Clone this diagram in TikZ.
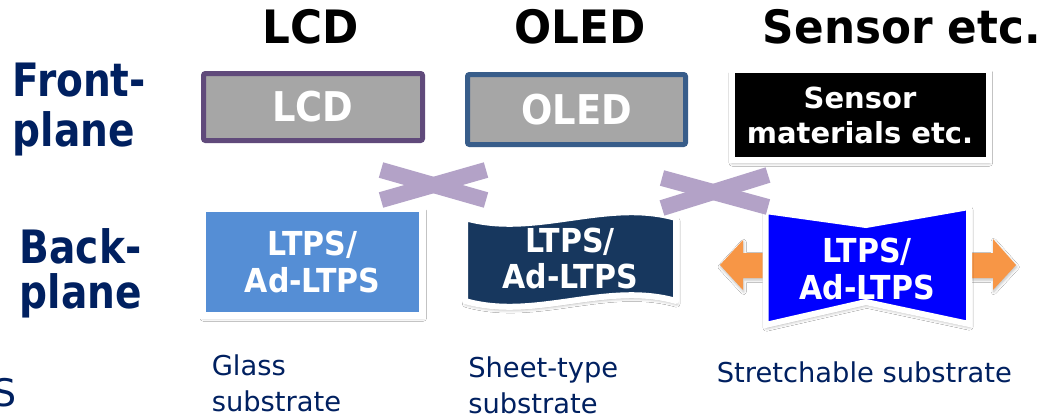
\documentclass[tikz,border=0pt]{standalone}
\usepackage{fontspec}
\setmainfont{DejaVu Sans}
\newfontfamily\ftitle[FakeStretch=0.95]{DejaVu Sans}
\newfontfamily\fside[FakeStretch=0.85]{DejaVu Sans}
\newfontfamily\flbl[FakeStretch=0.9]{DejaVu Sans}
\newfontfamily\fltps[FakeStretch=0.91]{DejaVu Sans}
\usetikzlibrary{shadows.blur}
\definecolor{navy}{HTML}{002060}
\definecolor{lcdpur}{HTML}{604A7B}
\definecolor{oledblue}{HTML}{385D8A}
\definecolor{boxgray}{HTML}{A6A6A6}
\definecolor{glassblue}{HTML}{558ED5}
\definecolor{sheetnavy}{HTML}{17375E}
\definecolor{stretchblue}{HTML}{0000FF}
\definecolor{orangearr}{HTML}{F79646}
\definecolor{lav}{HTML}{B3A2C7}
\begin{document}
\begin{tikzpicture}[x=0.75pt,y=-0.75pt,
  title/.style={font=\ftitle\bfseries\fontsize{34.5}{40}\selectfont, inner sep=0},
  side/.style={text=navy, inner sep=0, align=left},
  frontbox/.style={fill=boxgray, line width=3.75pt, rounded corners=1.5pt, text=white,
     font=\flbl\bfseries\fontsize{30.75}{34}\selectfont, inner sep=0},
  ltps/.style={text=white, align=center, font=\fltps\bfseries\fontsize{24.75}{27.5}\selectfont, inner sep=0},
  wshadow/.style={blur shadow={shadow xshift=0.6pt, shadow yshift=-2.2pt, shadow blur radius=2.5pt, shadow opacity=35}},
  cross/.style={draw=lav, line width=12pt},
  bot/.style={text=navy, font=\fontsize{20.5}{27}\selectfont, inner sep=0, align=left}]
\useasboundingbox[fill=white] (0,0) rectangle (1047,418);

% titles
\node[title, anchor=base] (tlcd) at (311,43) {LCD};
\node[title, anchor=base] (toled) at (580,43) {OLED};
\node[title, anchor=base] (tsens) at (902,43) {Sensor etc.};

% side labels
\node[side, anchor=north west, font=\fside\bfseries\fontsize{34.5}{37.5}\selectfont] (front) at (12.5,63) {Front-\\plane};
\node[side, anchor=north west, font=\fside\bfseries\fontsize{34.5}{33.75}\selectfont] (back) at (19.5,228.5) {Back-\\plane};

% front-plane boxes
\node[frontbox, draw=lcdpur, minimum width=164.25pt, minimum height=50.25pt] (lcd) at (313,107) {LCD};
\node[frontbox, draw=oledblue, minimum width=163.5pt, minimum height=52.5pt] (oled) at (576.5,109.5) {OLED};
\node[wshadow, fill=black, draw=white, line width=4.5pt, minimum width=192.75pt, minimum height=67.5pt,
      text=white, align=center, inner sep=0, font=\bfseries\fontsize{21.75}{26.25}\selectfont] (sens) at (860,115)
      {Sensor\\materials etc.};

% backplane 1: glass
\node[wshadow, fill=glassblue, draw=white, line width=5.25pt, minimum width=165pt, minimum height=79.9pt,
      ltps] (glassbox) at (312.5,261.75) {LTPS/\\Ad-LTPS};

% backplane 2: sheet (wave)
\path[wshadow, fill=sheetnavy, draw=white, line width=4.5pt, line join=round]
  (465,218) .. controls (535,238) and (606,198) .. (676,218)
  -- (676,301) .. controls (606,281) and (535,321) .. (465,301) -- cycle;
\node[ltps] (sheetlbl) at (570,258.5) {LTPS/\\Ad-LTPS};

% backplane 3: stretchable (bowtie) with orange double arrow
\path[fill=orangearr, blur shadow={shadow xshift=0.5pt, shadow yshift=-1.5pt, shadow blur radius=2pt, shadow opacity=25}]
  (720,265) -- (743,240) -- (743,253) -- (993,253) -- (993,239) -- (1016,265)
  -- (993,290) -- (993,278) -- (743,278) -- (743,290) -- cycle;
\path[wshadow, fill=stretchblue, draw=white, line width=4.5pt]
  (765.5,211) -- (866,225) -- (969,207) -- (969,324) -- (866,302) -- (765.5,325) -- cycle;
\node[ltps] (stretchlbl) at (867,269) {LTPS/\\Ad-LTPS};

% crosses
\coordinate (c1a) at (381,170); \coordinate (c1b) at (486,200);
\coordinate (c1c) at (381,200); \coordinate (c1d) at (486,170);
\coordinate (c2a) at (662,178); \coordinate (c2b) at (768,207);
\coordinate (c2c) at (662,208); \coordinate (c2d) at (768,175);
\draw[cross] (c1a) -- (c1b);
\draw[cross] (c1c) -- (c1d);
\draw[cross] (c2a) -- (c2b);
\draw[cross] (c2c) -- (c2d);

% bottom labels
\node[bot, anchor=north west] (glass) at (211.5,354) {Glass\\substrate};
\node[bot, anchor=north west] (sheet) at (468,356) {Sheet-type\\substrate};
\node[bot, anchor=base west] (stretch) at (716.5,382) {Stretchable substrate};
\node[text=navy, inner sep=0, anchor=base east, font=\fontsize{28.5}{32}\selectfont] (cutS) at (17,406) {S};
\end{tikzpicture}
\end{document}
